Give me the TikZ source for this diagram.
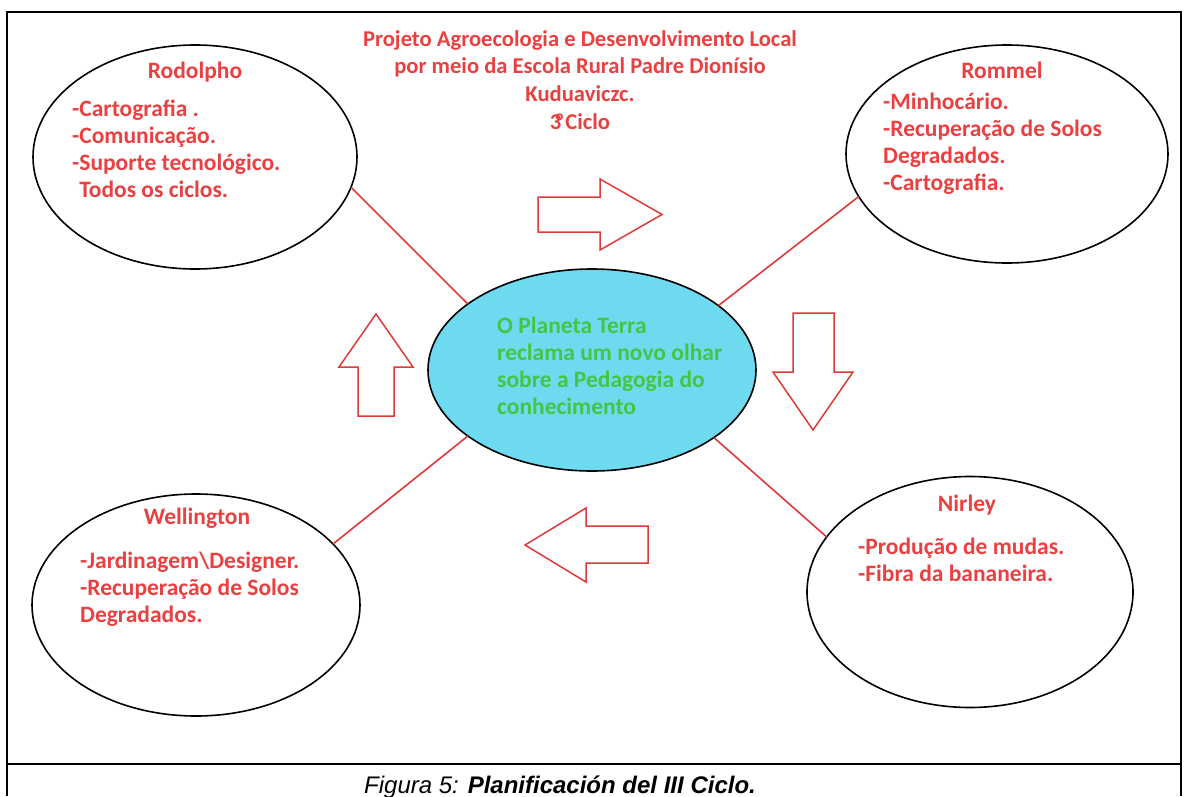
\documentclass[tikz,border=0pt]{standalone}
\usepackage{fontspec}
\setmainfont{Carlito}
\newfontfamily\capfont{Liberation Sans}
\usetikzlibrary{shapes.geometric}
\definecolor{txtred}{RGB}{234,64,64}
\definecolor{linkred}{RGB}{222,58,58}
\definecolor{txtgreen}{RGB}{70,196,70}
\definecolor{skyfill}{RGB}{110,218,240}
\begin{document}
\begin{tikzpicture}[x=1pt,y=-1pt,
  frame/.style={draw=black, line width=2.2pt},
  oval/.style={draw=black, line width=1.6pt, ellipse, inner sep=0pt, outer sep=0pt},
  link/.style={draw=linkred, line width=1.6pt},
  blockarrow/.style={draw=linkred, line width=1.5pt, fill=white, line join=miter},
  lbl/.style={text=txtred, font=\bfseries\fontsize{23.5}{27.3}\selectfont, inner sep=0pt, align=left},
  namelbl/.style={text=txtred, font=\bfseries\fontsize{23.5}{27.3}\selectfont, inner sep=0pt, anchor=base},
]
\useasboundingbox (0,0) rectangle (1188,796);
\fill[white] (0,0) rectangle (1188,796);
% frame
\draw[frame] (7,796) -- (7,12) -- (1181,12) -- (1181,796);
\draw[frame] (7,764) -- (1181,764);

% ellipses
\node[oval, minimum width=324pt, minimum height=224pt] (rod) at (195,157) {};
\node[oval, minimum width=322pt, minimum height=218pt] (rom) at (1007,154) {};
\node[oval, minimum width=328pt, minimum height=222pt] (wel) at (196,605) {};
\node[oval, minimum width=326pt, minimum height=231pt] (nir) at (970,592) {};
\node[oval, fill=skyfill, minimum width=328pt, minimum height=202pt] (ctr) at (592,370) {};

% connectors
\draw[link] (rod.-11) -- (ctr.152);
\draw[link] (rom.196.6) -- (ctr.27);
\draw[link] (wel.24) -- (ctr.208.4);
\draw[link] (nir.159.2) -- (ctr.-29.7);

% block arrows
\draw[blockarrow] (538,197) -- (600,197) -- (600,179) -- (662,214.5) -- (600,250) -- (600,232) -- (538,232) -- cycle;
\draw[blockarrow] (793,313) -- (834,313) -- (834,372) -- (853,372) -- (813,430) -- (773,372) -- (793,372) -- cycle;
\draw[blockarrow] (525,545) -- (586,508) -- (586,526) -- (648,526) -- (648,563) -- (586,563) -- (586,582) -- cycle;
\draw[blockarrow] (376,314) -- (413,367) -- (394,367) -- (394,416) -- (358,416) -- (358,367) -- (339,367) -- cycle;

% title (anchor at baseline of last line)
\node[lbl, font=\bfseries\fontsize{22.6}{27.8}\selectfont, align=center, anchor=base] (title) at (580,129.4) {Projeto Agroecologia e Desenvolvimento Local\\por meio da Escola Rural Padre Dionísio\\Kuduaviczc.\\3\kern-0.3emº\kern0.05emCiclo};

% Rodolpho
\node[namelbl] (rodname) at (195,78) {Rodolpho};
\node[lbl, anchor=base west] (roditems) at (72,197.9) {-Cartografia .\\-Comunicação.\\-Suporte tecnológico.\\\hspace*{0.3em}Todos os ciclos.};

% Rommel
\node[namelbl] (romname) at (1002,78) {Rommel};
\node[lbl, anchor=base west] (romitems) at (883,190.9) {-Minhocário.\\-Recuperação de Solos\\Degradados.\\-Cartografia.};

% center
\node[lbl, text=txtgreen, anchor=base west] (ctrtext) at (497,414.9) {O Planeta Terra\\reclama um novo olhar\\sobre a Pedagogia do\\conhecimento};

% Wellington
\node[namelbl] (welname) at (197,524) {Wellington};
\node[lbl, anchor=base west] (welitems) at (80,622.6) {-Jardinagem\textbackslash Designer.\\-Recuperação de Solos\\Degradados.};

% Nirley
\node[namelbl] (nirname) at (967,511) {Nirley};
\node[lbl, anchor=base west] (niritems) at (858,581.3) {-Produção de mudas.\\-Fibra da bananeira.};

% caption
\node[font=\capfont\fontsize{24}{26}\selectfont, anchor=base, inner sep=0pt] (cap) at (560,793) {\textit{Figura 5:} \textbf{\textit{Planificación del III Ciclo.}}};
\end{tikzpicture}
\end{document}
